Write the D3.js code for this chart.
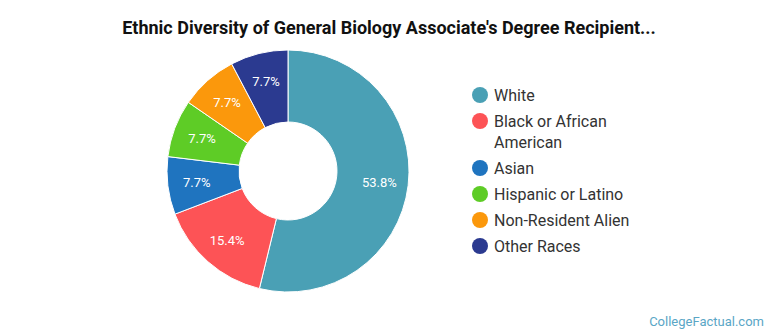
<!DOCTYPE html>
<html><head><meta charset="utf-8">
<script src="https://cdn.jsdelivr.net/npm/d3@7"></script>
<style>body{margin:0;background:#fff;}svg{display:block;font-family:Roboto,"Open Sans",sans-serif;}</style>
</head><body><svg id="c" width="770" height="335"></svg>
<script>
const categories = ["White","Black or African American","Asian","Hispanic or Latino","Non-Resident Alien","Other Races"];
const values = [53.8,15.4,7.7,7.7,7.7,7.7];
const colors = ["#4aa0b5","#fd5356","#1f74bf","#5ecc26","#fb980c","#2b3a90"];
const legendLines = [["White"],["Black or African","American"],["Asian"],["Hispanic or Latino"],["Non-Resident Alien"],["Other Races"]];
const title = "Ethnic Diversity of General Biology Associate's Degree Recipient...";

const svg = d3.select("#c");
svg.append("text").attr("x",389).attr("y",34).attr("text-anchor","middle")
  .attr("font-size",18).attr("font-weight","bold").attr("fill","#111").text(title);

const cx=288, cy=171, R=121, r=49, rl=92;
const data = categories.map((c,i)=>({c,v:values[i],col:colors[i]}));
const pie = d3.pie().value(d=>d.v).sort(null);
const arcs = pie(data);
const arc = d3.arc().innerRadius(r).outerRadius(R);
const larc = d3.arc().innerRadius(rl).outerRadius(rl);
const g = svg.append("g").attr("transform",`translate(${cx},${cy})`);
g.selectAll("path").data(arcs).join("path").attr("d",arc).attr("fill",d=>d.data.col)
  .attr("stroke","#fff").attr("stroke-width",1);
g.selectAll("text").data(arcs).join("text")
  .attr("transform",d=>`translate(${larc.centroid(d)})`)
  .attr("text-anchor","middle").attr("dy","0.35em").attr("font-size",13).attr("fill","#fff")
  .text(d=>d.data.v.toFixed(1)+"%");

const ly = [95,121,168,194,220,246];
const lg = svg.append("g");
legendLines.forEach((lines,i)=>{
  lg.append("circle").attr("cx",480).attr("cy",ly[i]).attr("r",8).attr("fill",colors[i]);
  lines.forEach((t,j)=>{
    lg.append("text").attr("x",494).attr("y",ly[i]+j*21).attr("dy","0.35em")
      .attr("font-size",16).attr("fill","#333").text(t);
  });
});
svg.append("text").attr("x",764).attr("y",326).attr("text-anchor","end")
  .attr("font-size",13).attr("fill","#5aa6c6").text("CollegeFactual.com");
</script></body></html>
